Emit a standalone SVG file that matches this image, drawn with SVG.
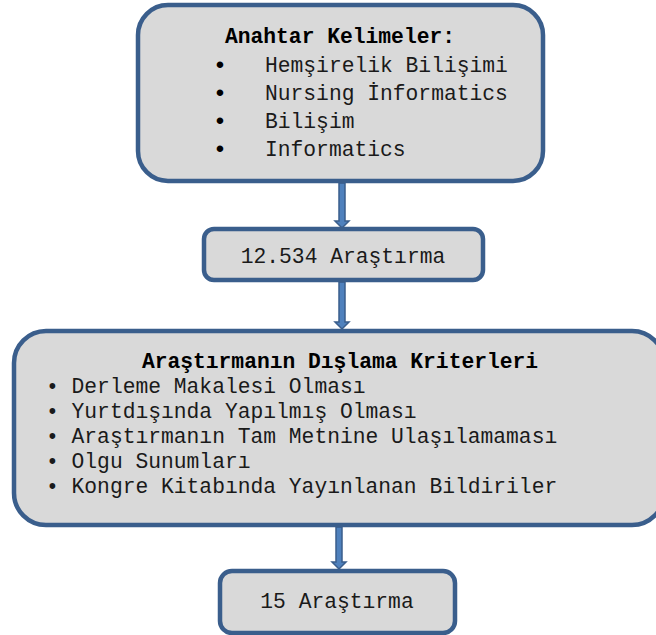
<svg xmlns="http://www.w3.org/2000/svg" width="656" height="635" viewBox="0 0 656 635">
<style>
.box{fill:#d9d9d9;stroke:#3a5e8c;stroke-width:4.5}
.t{font-family:"Liberation Mono","Courier New",monospace;font-size:21.3px;fill:#1a1a1a}
.b{font-weight:bold;fill:#000}
.bul{font-family:"Liberation Sans",Arial,sans-serif;font-size:24px;fill:#000}
.arr{fill:#4f81bd;stroke:#3a5e8c;stroke-width:1.5}
</style>
<rect width="656" height="635" fill="#ffffff"/>
<g id="connectors">
<path class="arr" d="M339,183 L345,183 L345,221 L349,221 L342,228 L335,221 L339,221 Z"/>
<path class="arr" d="M339,282 L345,282 L345,322 L349,322 L342,329 L335,322 L339,322 Z"/>
<path class="arr" d="M336,527 L342,527 L342,562 L346,562 L339,569 L332,562 L336,562 Z"/>
</g>
<g id="node1">
<rect class="box" x="138" y="5" width="405" height="176" rx="30"/>
<text class="t b" x="340" y="43" text-anchor="middle">Anahtar Kelimeler:</text>
<text class="bul" x="220" y="73" text-anchor="middle">•</text>
<text class="bul" x="220" y="101" text-anchor="middle">•</text>
<text class="bul" x="220" y="129" text-anchor="middle">•</text>
<text class="bul" x="220" y="157" text-anchor="middle">•</text>
<text class="t" x="265" y="72">Hemşirelik Bilişimi</text>
<text class="t" x="265" y="100">Nursing İnformatics</text>
<text class="t" x="265" y="128">Bilişim</text>
<text class="t" x="265" y="156">Informatics</text>
</g>
<g id="node2">
<rect class="box" x="204" y="229" width="279" height="51" rx="10"/>
<text class="t" x="343" y="263" text-anchor="middle">12.534 Araştırma</text>
</g>
<g id="node3">
<rect class="box" x="14" y="331" width="650" height="194" rx="32"/>
<text class="t b" x="340" y="368" text-anchor="middle">Araştırmanın Dışlama Kriterleri</text>
<text class="t" x="46" y="393">• Derleme Makalesi Olması</text>
<text class="t" x="46" y="418">• Yurtdışında Yapılmış Olması</text>
<text class="t" x="46" y="443">• Araştırmanın Tam Metnine Ulaşılamaması</text>
<text class="t" x="46" y="468">• Olgu Sunumları</text>
<text class="t" x="46" y="493">• Kongre Kitabında Yayınlanan Bildiriler</text>
</g>
<g id="node4">
<rect class="box" x="220" y="571" width="235" height="62" rx="12"/>
<text class="t" x="337" y="608" text-anchor="middle">15 Araştırma</text>
</g>
</svg>
